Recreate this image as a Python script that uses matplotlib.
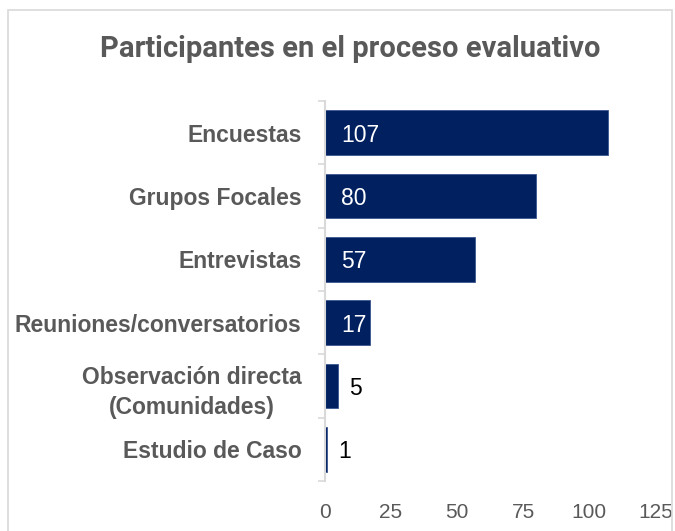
import matplotlib
matplotlib.use("Agg")
import matplotlib.pyplot as plt
from matplotlib.patches import Rectangle
import numpy as np

categories = ["Encuestas", "Grupos Focales", "Entrevistas", "Reuniones/conversatorios",
              "Observación directa\n(Comunidades)", "Estudio de Caso"]
values = [107, 80, 57, 17, 5, 1]
xticks = [0, 25, 50, 75, 100, 125]

BAR = "#002060"
GRAY = "#595959"
LIGHT = "#d9d9d9"

fig = plt.figure(figsize=(6.75, 5.31), dpi=100)
ax = fig.add_axes([324.5/675, 50/531, 331/675, 380/531])

y = np.arange(len(categories))
ax.barh(y, values, height=0.705, color=BAR, edgecolor="#3a5590", linewidth=0.6)
ax.set_ylim(len(categories) - 0.5, -0.5)
ax.set_xlim(0, 125)
ax.set_xticks(xticks)
ax.set_xticklabels([str(t) for t in xticks])

ax.set_yticks(y)
ax.set_yticklabels(categories)
ax.set_yticks(np.arange(len(categories) + 1) - 0.5, minor=True)
ax.tick_params(axis="y", which="major", length=0, pad=16.5, labelcolor=GRAY)
ax.tick_params(axis="y", which="minor", length=5, width=1.2, color=LIGHT)
ax.tick_params(axis="x", length=0, pad=16, labelcolor=GRAY, labelsize=15)
for lab in ax.get_yticklabels():
    lab.set_fontfamily("Liberation Sans")
    lab.set_fontweight("bold")
    lab.set_fontsize(16.5)
    lab.set_multialignment("center")
    lab.set_linespacing(1.4)
for lab in ax.get_xticklabels():
    lab.set_fontfamily("Liberation Sans")

for s in ["top", "right", "bottom"]:
    ax.spines[s].set_visible(False)
ax.spines["left"].set_color(LIGHT)
ax.spines["left"].set_linewidth(1.5)

for yi, v in zip(y, values):
    if v >= 10:
        ax.annotate(str(v), xy=(0, yi), xytext=(12, 0), textcoords="offset points",
                    va="center_baseline", ha="left", color="white", fontsize=16.5,
                    fontfamily="Liberation Sans")
    else:
        ax.annotate(str(v), xy=(v, yi), xytext=(8, 0), textcoords="offset points",
                    va="center_baseline", ha="left", color="black", fontsize=16.5,
                    fontfamily="Liberation Sans")

fig.text(350/675, 1 - 49/531, "Participantes en el proceso evaluativo", ha="center",
         va="center", fontsize=21, fontweight="bold", color=GRAY, fontfamily="Roboto")

frame = Rectangle((8/675, -0.1), (672 - 8)/675, 1.1 - 10/531, transform=fig.transFigure,
                  fill=False, edgecolor=LIGHT, linewidth=1.2, clip_on=False)
fig.patches.append(frame)

fig.savefig("out.png", dpi=100, facecolor="white")
